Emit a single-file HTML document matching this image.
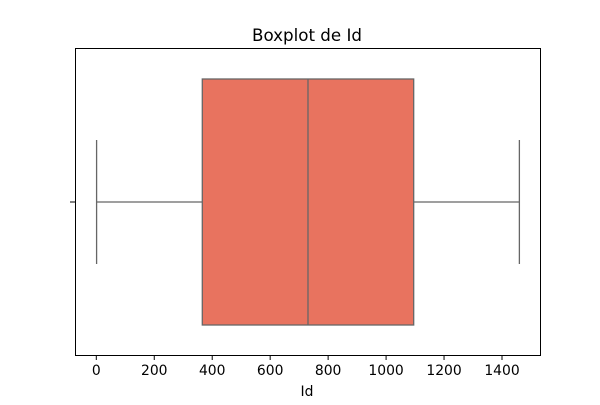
<!DOCTYPE html>
<html><head><meta charset="utf-8"><style>body{margin:0;background:#fff}svg{font-family:"DejaVu Sans","Liberation Sans",sans-serif}</style></head>
<body>
<svg id="c" width="600" height="400">
<text x="307" y="41" font-size="16.7" text-anchor="middle">Boxplot de Id</text>
<rect x="75.5" y="48.5" width="465" height="307" fill="none" stroke="#000" stroke-width="1"/>
<line x1="70" y1="202" x2="75" y2="202" stroke="#000"/>
<g id="ticks"></g>
<g id="box"></g>
<text x="307" y="396" font-size="13.9" text-anchor="middle">Id</text>
</svg>
<script>
const tickValues=[0,200,400,600,800,1000,1200,1400];
const tickLabels=["0","200","400","600","800","1000","1200","1400"];
const stats=[1,365.75,730.5,1095.25,1460]; // min,q1,median,q3,max
const ns="http://www.w3.org/2000/svg";
const x=v=>96.3+v*(405.7/1400);
function mk(tag,attrs,parent){const e=document.createElementNS(ns,tag);for(const k in attrs)e.setAttribute(k,attrs[k]);parent.appendChild(e);return e;}
const tg=document.getElementById('ticks');
tickValues.forEach((v,i)=>{
 const l=mk('line',{x1:x(v),x2:x(v),y1:355.5,y2:360,stroke:'#000'},tg);
 
 
 const t=mk('text',{x:x(v),y:375,'font-size':13.9,'text-anchor':'middle'},tg);
 t.textContent=tickLabels[i];
 
 
});
const bg=document.getElementById('box');
const [mn,q1,md,q3,mx]=stats;const s='#666';
let e;
e=mk('line',{x1:x(mn),x2:x(q1),y1:202,y2:202,stroke:s,'stroke-width':1.3},bg);

e=mk('line',{x1:x(q3),x2:x(mx),y1:202,y2:202,stroke:s,'stroke-width':1.3},bg);

e=mk('line',{x1:x(mn),x2:x(mn),y1:140,y2:264,stroke:s,'stroke-width':1.3},bg);

e=mk('line',{x1:x(mx),x2:x(mx),y1:140,y2:264,stroke:s,'stroke-width':1.3},bg);

e=mk('rect',{x:x(q1),y:79,width:x(q3)-x(q1),height:246,fill:'#e8735f',stroke:s,'stroke-width':1.3},bg);

e=mk('line',{x1:x(md),x2:x(md),y1:79,y2:325,stroke:s,'stroke-width':1.3},bg);

</script>
</body></html>
